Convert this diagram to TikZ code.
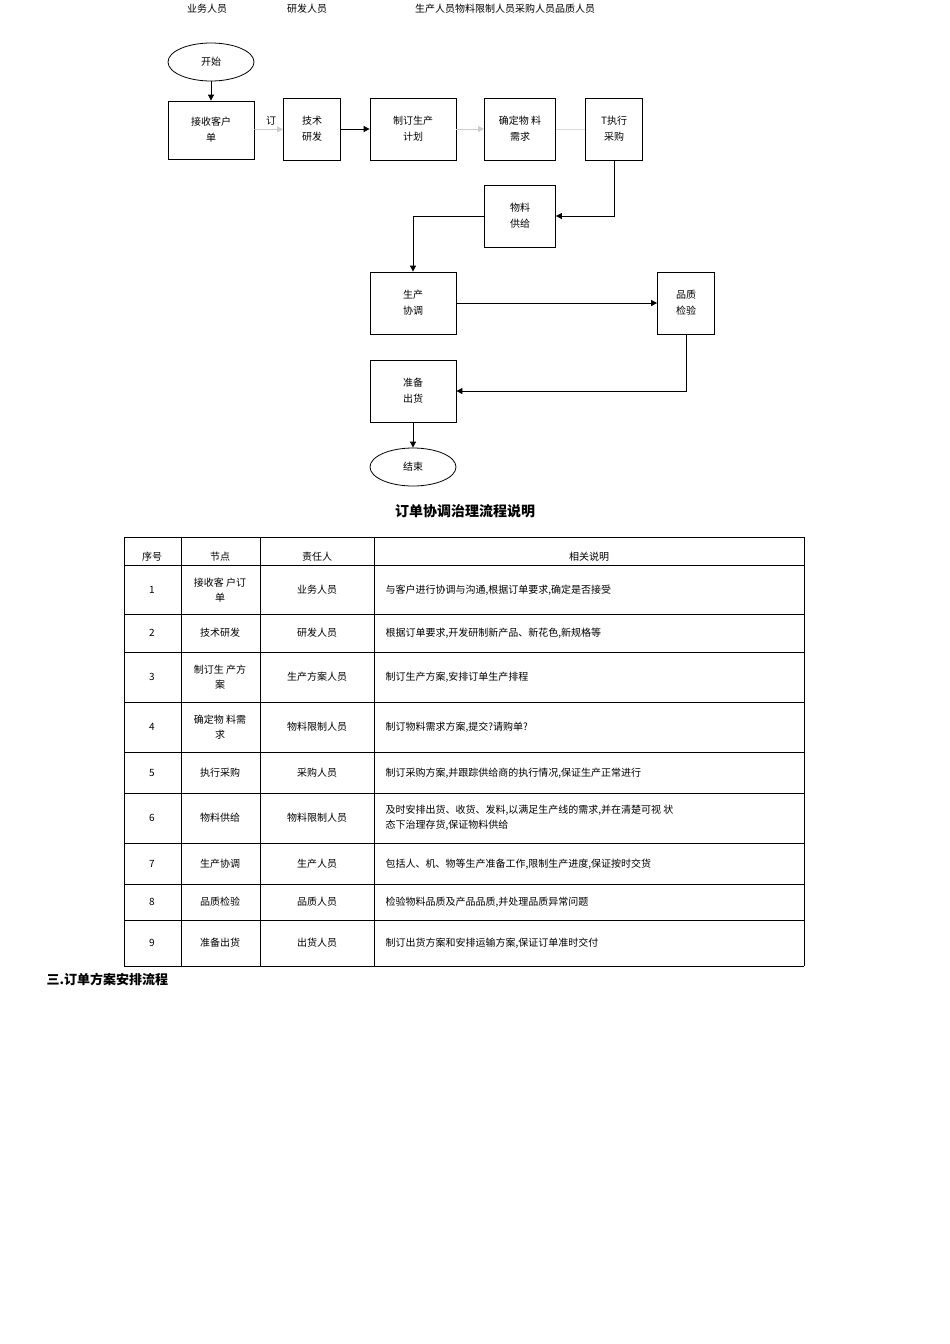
\documentclass[tikz,border=0pt]{standalone}
\usepackage{fontspec}
\setmainfont{Noto Sans CJK SC}
\usetikzlibrary{shapes.geometric,arrows.meta}
\begin{document}
\begin{tikzpicture}[x=1pt,y=-1pt,font=\fontsize{10}{12}\selectfont,
 bx/.style={draw,thick,align=center,inner sep=0pt},
 arr/.style={-{Triangle[length=6pt,width=6pt]},thick},
 cell/.style={font=\fontsize{10}{15}\selectfont,align=center}]
\useasboundingbox (0,0) rectangle (950,1344);
% headers
\node at (207,9) {业务人员};
\node at (307,9) {研发人员};
\node at (505,9) {生产人员物料限制人员采购人员品质人员};
% nodes
\node[draw,thick,ellipse,minimum width=86,minimum height=38] (s) at (211,62) {开始};
\node[bx,minimum width=86,minimum height=58] (a) at (211,130) {接收客户\\[4pt]单};
\node at (271,121) {订};
\node[bx,minimum width=57,minimum height=62] (b) at (312,129) {技术\\[4pt]研发};
\node[bx,minimum width=86,minimum height=62] (c) at (413,129) {制订生产\\[4pt]计划};
\node[bx,minimum width=71,minimum height=62] (d) at (520,129) {确定物\ 料\\[4pt]需求};
\node[bx,minimum width=57,minimum height=62] (e) at (614,129) {T执行\\[4pt]采购};
\node[bx,minimum width=71,minimum height=62] (f) at (520,216) {物料\\[4pt]供给};
\node[bx,minimum width=86,minimum height=62] (g) at (413,303) {生产\\[4pt]协调};
\node[bx,minimum width=57,minimum height=62] (h) at (686,303) {品质\\[4pt]检验};
\node[bx,minimum width=86,minimum height=62] (i) at (413,391) {准备\\[4pt]出货};
\node[draw,thick,ellipse,minimum width=86,minimum height=38] (t) at (413,467) {结束};
\draw[arr] (s) -- (a);
\draw[arr,gray!40] (a) -- (b);
\draw[arr] (b) -- (c);
\draw[arr,gray!40] (c) -- (d);
\draw[thick,gray!30] (d) -- (e);
\draw[arr] (e.south) |- (f.east);
\draw[arr] (f.west) -| (g.north);
\draw[arr] (g) -- (h);
\draw[arr] (h.south) |- (i.east);
\draw[arr] (i) -- (t);
% title
\node[font=\fontsize{14}{16}\selectfont\bfseries] at (465,511) {订单协调治理流程说明};
% table
\def\ys{537,565,614,652,702,752,793,843,884,920,966}
\foreach \y in \ys {\draw[thin] (124,\y) -- (804,\y);}
\foreach \x in {124,181,260,374,804} {\draw[thin] (\x,537) -- (\x,966);}
\node[cell] at (152,557) {序号};
\node[cell] at (220,557) {节点};
\node[cell] at (317,557) {责任人};
\node[cell] at (589,557) {相关说明};
\foreach \n/\y/\nd/\p in {1/590/{接收客\ 户订\\单}/业务人员, 2/633/技术研发/研发人员, 3/677/{制订生\ 产方\\案}/生产方案人员, 4/727/{确定物\ 料需\\求}/物料限制人员, 5/773/执行采购/采购人员, 6/818/物料供给/物料限制人员, 7/864/生产协调/生产人员, 8/902/品质检验/品质人员, 9/943/准备出货/出货人员}{
 \node[cell] at (152,\y) {\n};
 \node[cell] at (220,\y) {\nd};
 \node[cell] at (317,\y) {\p};
}
\foreach \y/\t in {590/{与客户进行协调与沟通,根据订单要求,确定是否接受},633/{根据订单要求,开发研制新产品、新花色,新规格等},677/{制订生产方案,安排订单生产排程},727/{制订物料需求方案,提交?请购单?},773/{制订采购方案,并跟踪供给商的执行情况,保证生产正常进行},864/{包括人、机、物等生产准备工作,限制生产进度,保证按时交货},902/{检验物料品质及产品品质,并处理品质异常问题},943/{制订出货方案和安排运输方案,保证订单准时交付}}
 {\node[cell,anchor=west] at (382,\y) {\t};}
\node[cell,anchor=west,align=left] at (382,818) {及时安排出货、收货、发料,以满足生产线的需求,并在清楚可视\ 状\\态下治理存货,保证物料供给};
\node[font=\fontsize{13}{15}\selectfont\bfseries,anchor=west] at (43,979) {三.订单方案安排流程};
\end{tikzpicture}
\end{document}
